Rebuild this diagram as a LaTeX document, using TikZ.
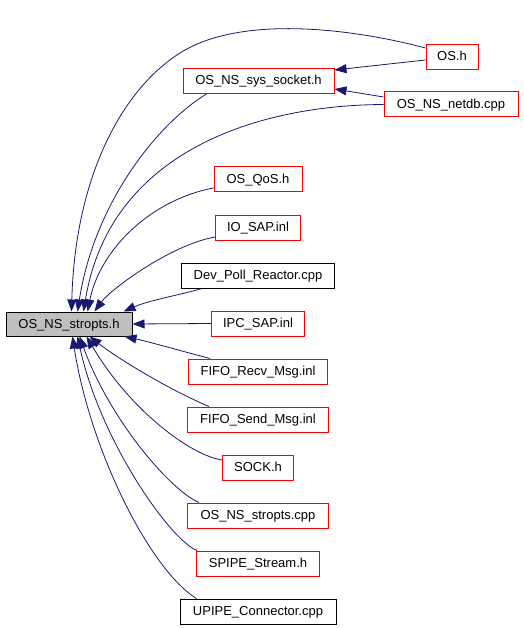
\documentclass[tikz,border=0pt]{standalone}
\usepackage{fontspec}
\newfontfamily\doxfont{Liberation Sans}
\usepackage{tikz}
\usetikzlibrary{arrows.meta}
\definecolor{edgeblue}{HTML}{191970}
\definecolor{curgray}{HTML}{BFBFBF}

\begin{document}
\begin{tikzpicture}[x=1pt, y=-1pt,
  file/.style={draw=red, line width=1pt, minimum height=25pt, inner sep=0pt,
    text height=10pt, text depth=2pt,
    font=\doxfont\fontsize{13}{15}\selectfont},
  dep/.style={draw=edgeblue, line width=0.8pt, -{Triangle[length=12pt, width=9pt]}}
]
\useasboundingbox (0,0) rectangle (523,628);

% Current file
\node[file, draw=black, fill=curgray, minimum width=126pt, minimum height=24pt] (stropts) at (69,324) {OS\_NS\_stropts.h};

% Top group
\node[file, minimum width=52pt] (osh) at (452,57) {OS.h};
\node[file, minimum width=151pt] (syssock) at (258.5,81) {OS\_NS\_sys\_socket.h};
\node[file, minimum width=134pt] (netdb) at (451,104.5) {OS\_NS\_netdb.cpp};

% Column of includers
\foreach \nm/\txt/\cy/\bw/\col in {
  qos/OS\_QoS.h/179.5/88/red,
  iosap/IO\_SAP.inl/227.5/85/red,
  devpoll/Dev\_Poll\_Reactor.cpp/275.5/153/black,
  ipcsap/IPC\_SAP.inl/323.5/93/red,
  fiforecv/FIFO\_Recv\_Msg.inl/371.5/139/red,
  fifosend/FIFO\_Send\_Msg.inl/419.5/141/red,
  sockh/SOCK.h/467.5/71/red,
  nscpp/OS\_NS\_stropts.cpp/515.5/141/red,
  spipe/SPIPE\_Stream.h/563.5/123/red,
  upipe/UPIPE\_Connector.cpp/611.5/156/black}{
  \node[file, draw=\col, minimum width=\bw pt] (\nm) at (258,\cy) {\txt};
}

% Edges into OS_NS_sys_socket.h
\draw[dep] ([yshift=-3pt]osh.west) -- ([yshift=11pt]syssock.east);
\draw[dep] ([yshift=7.5pt]netdb.west) -- ([yshift=-8pt]syssock.east);

% Edges into OS_NS_stropts.h (from above)
\draw[dep] ([yshift=9pt]osh.west) .. controls (350,28) and (240,15) .. (180,53)
  .. controls (120,91) and (75,180) .. ([xshift=66pt]stropts.north west);
\draw[dep] ([xshift=24pt]syssock.south west) .. controls (160,122) and (95,200) .. ([xshift=72pt]stropts.north west);
\draw[dep] (netdb.west) .. controls (260,105) and (110,150) .. ([xshift=78pt]stropts.north west);
\draw[dep] ([yshift=-8.5pt]qos.west) .. controls (150,200) and (100,250) .. ([xshift=82pt]stropts.north west);
\draw[dep] ([yshift=-9.5pt]iosap.west) .. controls (170,245) and (110,290) .. ([xshift=89pt]stropts.north west);
\draw[dep] ([xshift=21pt]devpoll.south west) .. controls (180,295) and (150,300) .. ([xshift=-9pt]stropts.north east);
\draw[dep] (ipcsap.west) -- (stropts.east);

% Edges into OS_NS_stropts.h (from below)
\draw[dep] ([xshift=22pt]fiforecv.north west) .. controls (185,352) and (150,342) .. ([xshift=-8pt]stropts.south east);
\draw[dep] ([xshift=22pt]fifosend.north west) .. controls (170,390) and (120,360) .. ([xshift=84pt]stropts.south west);
\draw[dep] ([yshift=7.5pt]sockh.west) .. controls (190,455) and (130,410) .. ([xshift=81pt]stropts.south west);
\draw[dep] ([xshift=12pt]nscpp.north west) .. controls (170,490) and (110,420) .. ([xshift=74pt]stropts.south west);
\draw[dep] ([xshift=1pt]spipe.north west) .. controls (170,540) and (100,440) .. ([xshift=72pt]stropts.south west);
\draw[dep] ([xshift=17pt]upipe.north west) .. controls (150,570) and (90,450) .. ([xshift=67pt]stropts.south west);

\end{tikzpicture}
\end{document}
